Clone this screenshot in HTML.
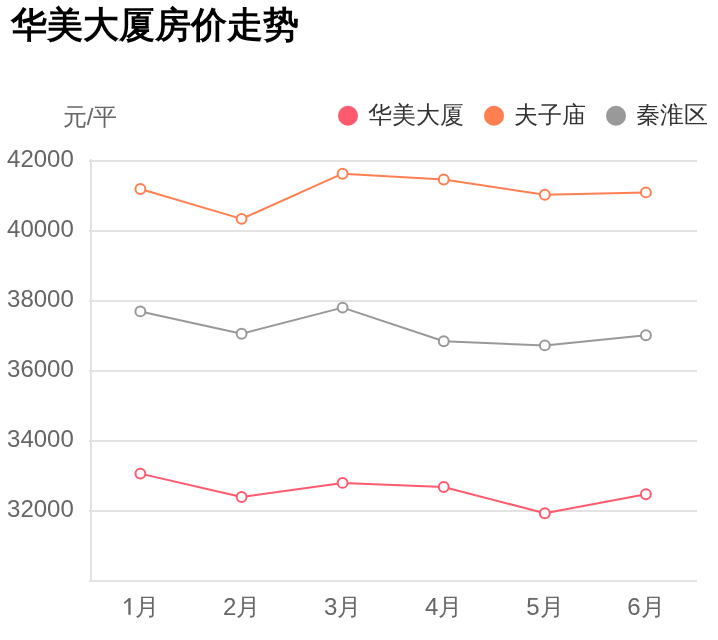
<!DOCTYPE html>
<html><head><meta charset="utf-8"><style>
html,body{margin:0;padding:0;background:#fff;width:718px;height:640px;overflow:hidden}
svg{display:block;will-change:transform}
text{font-family:"Liberation Sans",sans-serif}
.ttl{font-size:36px;font-weight:bold;fill:#000}
.ax{font-size:24px;fill:#666}
.lg{font-size:24px;fill:#333}
</style></head><body>
<svg width="718" height="640" viewBox="0 0 718 640">
<text x="10.7" y="37.1" class="ttl">华美大厦房价走势</text>
<text x="63.2" y="125" class="ax">元<tspan dx="-0.4">/</tspan><tspan dx="-0.5">平</tspan></text>
<circle cx="348" cy="115.8" r="10" fill="#ff5a6e"/>
<text x="368" y="123.2" class="lg">华美大厦</text>
<circle cx="494" cy="115.8" r="10" fill="#ff7f50"/>
<text x="514" y="123.2" class="lg">夫子庙</text>
<circle cx="616" cy="115.8" r="10" fill="#999999"/>
<text x="636" y="123.2" class="lg">秦淮区</text>
<line x1="89" y1="161" x2="697" y2="161" stroke="#e3e3e3" stroke-width="2"/>
<line x1="89" y1="231" x2="697" y2="231" stroke="#e3e3e3" stroke-width="2"/>
<line x1="89" y1="301" x2="697" y2="301" stroke="#e3e3e3" stroke-width="2"/>
<line x1="89" y1="371" x2="697" y2="371" stroke="#e3e3e3" stroke-width="2"/>
<line x1="89" y1="441" x2="697" y2="441" stroke="#e3e3e3" stroke-width="2"/>
<line x1="89" y1="511" x2="697" y2="511" stroke="#e3e3e3" stroke-width="2"/>
<line x1="89" y1="581" x2="697" y2="581" stroke="#e3e3e3" stroke-width="2"/>
<line x1="91" y1="159" x2="91" y2="582" stroke="#e3e3e3" stroke-width="2"/>
<text x="73.8" y="167.3" text-anchor="end" class="ax">42000</text>
<text x="73.8" y="237.3" text-anchor="end" class="ax">40000</text>
<text x="73.8" y="307.3" text-anchor="end" class="ax">38000</text>
<text x="73.8" y="377.3" text-anchor="end" class="ax">36000</text>
<text x="73.8" y="447.3" text-anchor="end" class="ax">34000</text>
<text x="73.8" y="517.3" text-anchor="end" class="ax">32000</text>
<text x="135.04" y="614.8" class="ax">月</text>
<path d="M130.6 597.9 V614.8 H128.3 V600.9 L124.7 603.9 L123.9 602.5 L128.9 597.9 Z" fill="#666"/>
<text x="241.6" y="614.8" text-anchor="middle" class="ax">2月</text>
<text x="342.6" y="614.8" text-anchor="middle" class="ax">3月</text>
<text x="443.75" y="614.8" text-anchor="middle" class="ax">4月</text>
<text x="544.85" y="614.8" text-anchor="middle" class="ax">5月</text>
<text x="645.9" y="614.8" text-anchor="middle" class="ax">6月</text>
<polyline points="140.37,188.93 241.60,218.87 342.60,173.70 443.75,179.56 544.85,194.80 645.90,192.40" fill="none" stroke="#ff7f50" stroke-width="2" stroke-linejoin="round"/>
<circle cx="140.37" cy="188.93" r="4.95" fill="#fff" stroke="#ff7f50" stroke-width="2"/>
<circle cx="241.60" cy="218.87" r="4.95" fill="#fff" stroke="#ff7f50" stroke-width="2"/>
<circle cx="342.60" cy="173.70" r="4.95" fill="#fff" stroke="#ff7f50" stroke-width="2"/>
<circle cx="443.75" cy="179.56" r="4.95" fill="#fff" stroke="#ff7f50" stroke-width="2"/>
<circle cx="544.85" cy="194.80" r="4.95" fill="#fff" stroke="#ff7f50" stroke-width="2"/>
<circle cx="645.90" cy="192.40" r="4.95" fill="#fff" stroke="#ff7f50" stroke-width="2"/>
<polyline points="140.37,311.40 241.60,333.80 342.60,307.60 443.75,341.30 544.85,345.40 645.90,335.20" fill="none" stroke="#999999" stroke-width="2" stroke-linejoin="round"/>
<circle cx="140.37" cy="311.40" r="4.95" fill="#fff" stroke="#999999" stroke-width="2"/>
<circle cx="241.60" cy="333.80" r="4.95" fill="#fff" stroke="#999999" stroke-width="2"/>
<circle cx="342.60" cy="307.60" r="4.95" fill="#fff" stroke="#999999" stroke-width="2"/>
<circle cx="443.75" cy="341.30" r="4.95" fill="#fff" stroke="#999999" stroke-width="2"/>
<circle cx="544.85" cy="345.40" r="4.95" fill="#fff" stroke="#999999" stroke-width="2"/>
<circle cx="645.90" cy="335.20" r="4.95" fill="#fff" stroke="#999999" stroke-width="2"/>
<polyline points="140.37,473.60 241.60,497.00 342.60,482.90 443.75,487.00 544.85,513.20 645.90,494.30" fill="none" stroke="#ff5a6e" stroke-width="2" stroke-linejoin="round"/>
<circle cx="140.37" cy="473.60" r="4.95" fill="#fff" stroke="#ff5a6e" stroke-width="2"/>
<circle cx="241.60" cy="497.00" r="4.95" fill="#fff" stroke="#ff5a6e" stroke-width="2"/>
<circle cx="342.60" cy="482.90" r="4.95" fill="#fff" stroke="#ff5a6e" stroke-width="2"/>
<circle cx="443.75" cy="487.00" r="4.95" fill="#fff" stroke="#ff5a6e" stroke-width="2"/>
<circle cx="544.85" cy="513.20" r="4.95" fill="#fff" stroke="#ff5a6e" stroke-width="2"/>
<circle cx="645.90" cy="494.30" r="4.95" fill="#fff" stroke="#ff5a6e" stroke-width="2"/>

</svg>
</body></html>
